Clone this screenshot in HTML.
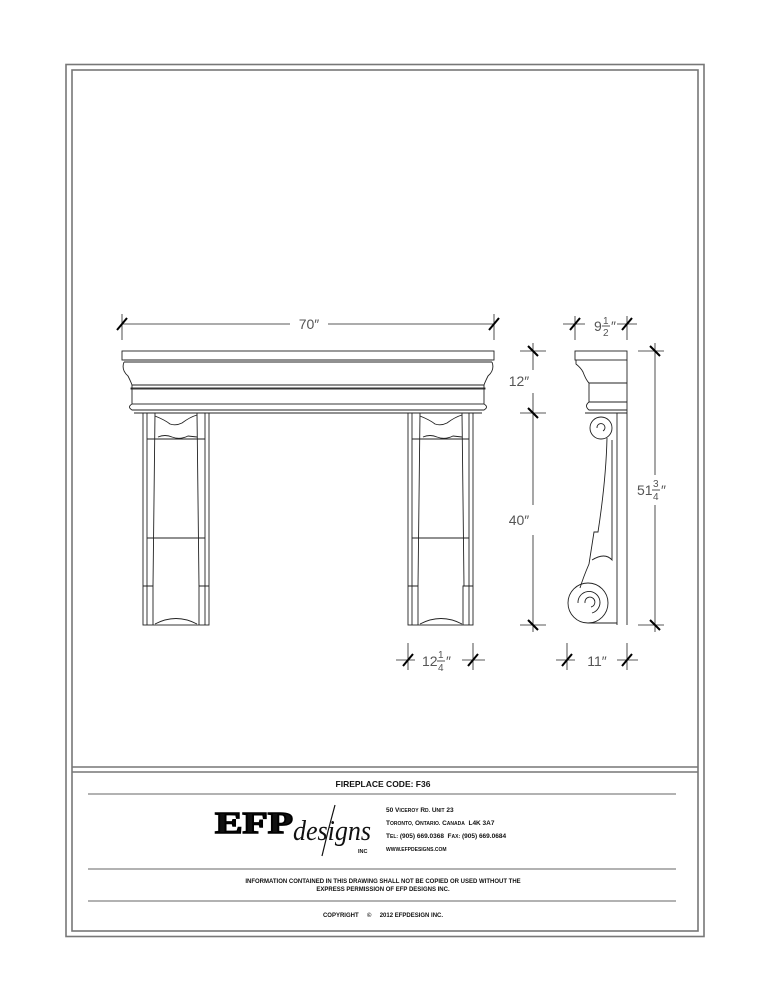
<!DOCTYPE html>
<html><head><meta charset="utf-8"><style>
html,body{margin:0;padding:0;background:#fff}
svg{display:block}
text{font-family:"Liberation Sans",sans-serif;white-space:pre}
</style></head><body>
<svg width="773" height="1000" viewBox="0 0 773 1000" xmlns="http://www.w3.org/2000/svg">
<g fill="none" stroke="#777" stroke-width="1.6">
<rect x="66" y="64.5" width="638" height="872"/>
<rect x="72" y="70" width="626" height="861"/>
<line x1="72" y1="767" x2="698" y2="767"/>
<line x1="72" y1="772" x2="698" y2="772"/>
</g>
<g stroke="#666" stroke-width="1">
<line x1="88" y1="794" x2="676" y2="794"/>
<line x1="88" y1="869" x2="676" y2="869"/>
<line x1="88" y1="901" x2="676" y2="901"/>
</g>

<!-- front view -->
<g fill="none" stroke="#222" stroke-width="0.9">
<rect x="122" y="351" width="372" height="9"/>
<path d="M124 360 L492 360 M124 362 L492 362"/>
<path d="M124 362 Q121 370 128 376 Q131 382 132 385 L484 385 Q485 382 488 376 Q495 370 492 362"/>
<rect x="132" y="385" width="352" height="19"/>
<rect x="131" y="388" width="354" height="1" />
<path d="M132 404 Q127 407 132 410 L484 410 Q489 407 484 404"/>
<line x1="134" y1="413" x2="482" y2="413"/>
<rect x="143" y="413" width="66" height="212"/>
<line x1="147" y1="413" x2="147" y2="625"/>
<line x1="205" y1="413" x2="205" y2="625"/>
<path d="M155 413 L153 586 M197 413 L199 586"/>
<path d="M155 416 Q165 420 170 424 Q176 426 182 423 Q190 417 197 415"/>
<path d="M147 439 L205 439 M158 437 Q165 434 172 437 Q180 440 188 436 L197 437"/>
<line x1="147" y1="538" x2="205" y2="538"/>
<path d="M143 586 L153 586 L153 625 M209 586 L199 586 L199 625"/>
<path d="M155 624 Q176 613 197 624"/>
<rect x="408" y="413" width="65" height="212"/>
<line x1="412" y1="413" x2="412" y2="625"/>
<line x1="469" y1="413" x2="469" y2="625"/>
<path d="M420 413 L418 586 M462 413 L464 586"/>
<path d="M420 416 Q430 420 435 424 Q441 426 447 423 Q455 417 462 415"/>
<path d="M412 439 L469 439 M423 437 Q430 434 437 437 Q445 440 453 436 L462 437"/>
<line x1="412" y1="538" x2="469" y2="538"/>
<path d="M408 586 L418 586 L418 625 M473 586 L463 586 L463 625"/>
<path d="M420 624 Q441 613 462 624"/>
</g>

<!-- side view -->
<g fill="none" stroke="#222" stroke-width="0.9">
<rect x="575" y="351" width="52" height="9"/>
<path d="M576 360 L576 364 Q581 368 583 372 Q586 380 589 383 L627 383 M589 383 L589 402 L627 402"/>
<path d="M589 402 Q584 406 589 410 L627 410"/>
<line x1="617" y1="413" x2="617" y2="625"/>
<line x1="627" y1="360" x2="627" y2="625"/>
<line x1="585" y1="413" x2="627" y2="413"/>
<circle cx="601" cy="428" r="11"/>
<path d="M601 428 m-4 0 a4 4 0 1 1 6 3"/>
<path d="M607 438 Q606 480 598 532 L594 532 L589 564 Q583 578 580 588"/>
<path d="M612 440 L612 560 Q605 552 592 560"/>
<circle cx="588" cy="603" r="20"/>
<path d="M588 603 m-3 0 a5 5 0 1 1 6 4 M588 603 m-10 0 a11 11 0 1 1 14 10"/>
<line x1="588" y1="623" x2="617" y2="623"/>
</g>

<!-- dimensions -->
<g stroke="#222" stroke-width="0.8" fill="none">
<line x1="122" y1="324" x2="290" y2="324"/><line x1="328" y1="324" x2="494" y2="324"/>
<line x1="122" y1="314" x2="122" y2="340"/><line x1="494" y1="314" x2="494" y2="340"/>
<line x1="563" y1="324" x2="585" y2="324"/><line x1="617" y1="324" x2="637" y2="324"/>
<line x1="575" y1="316" x2="575" y2="340"/><line x1="627" y1="316" x2="627" y2="340"/>
<line x1="520" y1="351" x2="546" y2="351"/><line x1="520" y1="413" x2="546" y2="413"/>
<line x1="520" y1="625" x2="546" y2="625"/>
<line x1="533" y1="343" x2="533" y2="370"/><line x1="533" y1="393" x2="533" y2="505"/><line x1="533" y1="535" x2="533" y2="632"/>
<line x1="638" y1="351" x2="664" y2="351"/><line x1="638" y1="625" x2="664" y2="625"/>
<line x1="655" y1="343" x2="655" y2="475"/><line x1="655" y1="505" x2="655" y2="632"/>
<line x1="408" y1="643" x2="408" y2="670"/><line x1="473" y1="643" x2="473" y2="670"/>
<line x1="396" y1="660" x2="415" y2="660"/><line x1="462" y1="660" x2="485" y2="660"/>
<line x1="567" y1="643" x2="567" y2="670"/><line x1="627" y1="643" x2="627" y2="670"/>
<line x1="556" y1="660" x2="575" y2="660"/><line x1="617" y1="660" x2="638" y2="660"/>
</g>
<g stroke="#000" stroke-width="2">
<line x1="117" y1="330" x2="127" y2="318"/><line x1="489" y1="330" x2="499" y2="318"/>
<line x1="570" y1="330" x2="580" y2="318"/><line x1="622" y1="330" x2="632" y2="318"/>
<line x1="528" y1="346" x2="538" y2="356"/><line x1="528" y1="408" x2="538" y2="418"/><line x1="528" y1="620" x2="538" y2="630"/>
<line x1="650" y1="346" x2="660" y2="356"/><line x1="650" y1="620" x2="660" y2="630"/>
<line x1="403" y1="666" x2="413" y2="654"/><line x1="468" y1="666" x2="478" y2="654"/>
<line x1="562" y1="666" x2="572" y2="654"/><line x1="622" y1="666" x2="632" y2="654"/>
</g>
<g fill="#555" font-size="14">
<text x="309" y="329" text-anchor="middle">70″</text>
<text x="519" y="386" text-anchor="middle">12″</text>
<text x="519" y="525" text-anchor="middle">40″</text>
<text x="594" y="331">9</text><text x="603" y="324" font-size="10">1</text><line x1="602" y1="326" x2="610" y2="326" stroke="#555"/><text x="603" y="336" font-size="10">2</text><text x="611" y="331">″</text>
<text x="637" y="495">51</text><text x="653" y="487" font-size="10">3</text><line x1="652" y1="490" x2="660" y2="490" stroke="#555"/><text x="653" y="500" font-size="10">4</text><text x="661" y="495">″</text>
<text x="422" y="666">12</text><text x="438" y="658" font-size="10">1</text><line x1="437" y1="661" x2="445" y2="661" stroke="#555"/><text x="438" y="671" font-size="10">4</text><text x="446" y="666">″</text>
<text x="597" y="666" text-anchor="middle">11″</text>
</g>

<!-- title block -->
<g fill="#111" font-weight="bold">
<text x="383" y="787" font-size="8.5" text-anchor="middle">FIREPLACE CODE: F36</text>
<text x="386" y="812" font-size="6.5">50 V<tspan font-size="5">ICEROY</tspan> R<tspan font-size="5">D.</tspan> U<tspan font-size="5">NIT</tspan> 23</text>
<text x="386" y="825" font-size="6.5">T<tspan font-size="5">ORONTO,</tspan> O<tspan font-size="5">NTARIO.</tspan> C<tspan font-size="5">ANADA</tspan>  L4K 3A7</text>
<text x="386" y="838" font-size="6.5">T<tspan font-size="5">EL:</tspan> (905) 669.0368  F<tspan font-size="5">AX:</tspan> (905) 669.0684</text>
<text x="386" y="851" font-size="5">WWW.EFPDESIGNS.COM</text>
<text x="383" y="883" font-size="6" text-anchor="middle">INFORMATION CONTAINED IN THIS DRAWING SHALL NOT BE COPIED OR USED WITHOUT THE</text>
<text x="383" y="891" font-size="6" text-anchor="middle">EXPRESS PERMISSION OF EFP DESIGNS INC.</text>
<text x="383" y="917" font-size="6" text-anchor="middle">COPYRIGHT     ©     2012 EFPDESIGN INC.</text>
<text x="215" y="833" style="font-family:'Liberation Serif',serif;font-size:31px;font-weight:bold" textLength="78" lengthAdjust="spacingAndGlyphs" stroke="#000" stroke-width="1.5">EFP</text>
<text x="358" y="853" font-size="5.5">INC</text>
</g>
<text x="293" y="840" style="font-family:'Liberation Serif',serif;font-size:28px;font-style:italic" fill="#111" textLength="78" lengthAdjust="spacingAndGlyphs">designs</text>
<path d="M335 805 Q328 830 322 856" stroke="#111" fill="none" stroke-width="1.2"/>
</svg>
</body></html>
